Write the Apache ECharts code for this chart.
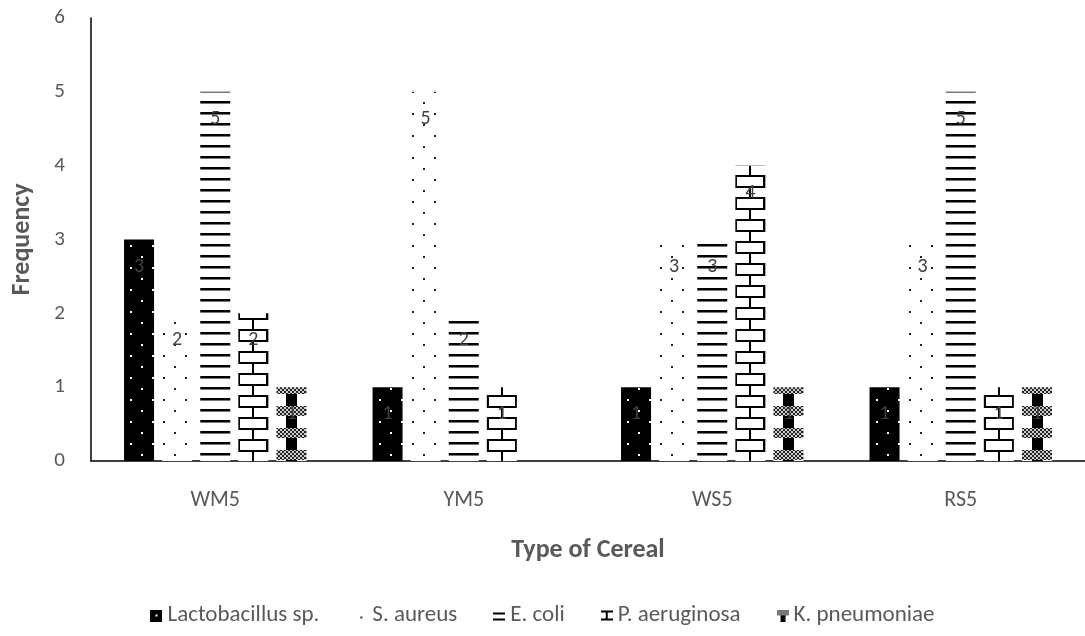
<!DOCTYPE html>
<html><head><meta charset="utf-8">
<script src="https://cdn.jsdelivr.net/npm/echarts@6/dist/echarts.min.js"></script>
<style>html,body{margin:0;padding:0;background:#fff}#c{width:1085px;height:636px}</style>
</head><body><div id="c"></div>
<script>
const categories = ['WM5', 'YM5', 'WS5', 'RS5'];
const seriesNames = ['Lactobacillus sp.', 'S. aureus', 'E. coli', 'P. aeruginosa', 'K. pneumoniae'];
const lactobacillus = [3, 1, 1, 1];
const sAureus = [2, 5, 3, 3];
const eColi = [5, 2, 3, 5];
const pAeruginosa = [2, 1, 4, 1];
const kPneumoniae = [1, 0, 1, 1];
const yTicks = [0, 1, 2, 3, 4, 5, 6];

const FONT = 'Carlito, Calibri, Lato, sans-serif';
const seriesValues = [lactobacillus, sAureus, eColi, pAeruginosa, kPneumoniae];

function mk(w, h, draw) {
  const c = document.createElement('canvas');
  c.width = w; c.height = h;
  const g = c.getContext('2d');
  draw(g, w, h);
  return c;
}
const tiles = [
  () => mk(22, 22, (g) => { g.fillStyle = '#000'; g.fillRect(0, 0, 22, 22); g.fillStyle = '#fff';
      g.fillRect(6, 4, 2, 2); g.fillRect(17, 15, 2, 2); }),
  () => mk(22, 22, (g) => { g.fillStyle = '#fff'; g.fillRect(0, 0, 22, 22); g.fillStyle = '#222';
      g.fillRect(1, 4, 2, 2); g.fillRect(12, 15, 2, 2); }),
  () => mk(30, 11, (g) => { g.fillStyle = '#fff'; g.fillRect(0, 0, 30, 11); g.fillStyle = '#000';
      g.fillRect(0, 3, 30, 2); g.fillStyle = '#777'; g.fillRect(0, 5, 30, 1); }),
  () => mk(30, 22, (g) => { g.fillStyle = '#fff'; g.fillRect(0, 0, 30, 22); g.fillStyle = '#000';
      g.fillRect(0, 0, 30, 2); g.fillRect(0, 11, 30, 2);
      g.fillRect(0, 0, 2, 11); g.fillRect(28, 0, 2, 11);
      g.fillRect(14, 11, 2, 11); }),
  () => mk(30, 22, (g) => { g.fillStyle = '#fff'; g.fillRect(0, 0, 30, 22);
      g.fillStyle = '#000'; g.fillRect(10, 0, 11, 22);
      for (let y = 11; y < 21; y++) for (let x = 0; x < 30; x++) {
        g.fillStyle = ((Math.floor(x / 2) + Math.floor(y / 2)) % 2) ? '#222' : '#cfcfcf';
        g.fillRect(x, y, 1, 1);
      } })
];
const tileCanvases = tiles.map(f => f());

const icons = [
  mk(12, 12, g => { g.fillStyle = '#000'; g.fillRect(0, 0, 12, 12); g.fillStyle = '#fff'; g.fillRect(5, 5, 2, 2); }),
  mk(12, 12, g => { g.fillStyle = '#fff'; g.fillRect(0, 0, 12, 12); g.fillStyle = '#333'; g.fillRect(5, 7, 2, 2); }),
  mk(12, 12, g => { g.fillStyle = '#fff'; g.fillRect(0, 0, 12, 12); g.fillStyle = '#000'; g.fillRect(0, 3, 12, 2); g.fillRect(0, 9, 12, 2); }),
  mk(12, 12, g => { g.fillStyle = '#fff'; g.fillRect(0, 0, 12, 12); g.fillStyle = '#000'; g.fillRect(0, 1, 12, 2); g.fillRect(0, 9, 12, 2); g.fillRect(5, 1, 2, 10); }),
  mk(12, 12, g => { g.fillStyle = '#fff'; g.fillRect(0, 0, 12, 12); g.fillStyle = '#000'; g.fillRect(4, 0, 5, 12);
      for (let y = 0; y < 6; y++) for (let x = 0; x < 12; x++) { g.fillStyle = ((x + y) % 2) ? '#222' : '#ccc'; g.fillRect(x, y, 1, 1); } })
].map(c => 'image://' + c.toDataURL());

const chart = echarts.init(document.getElementById('c'), null, { renderer: 'canvas' });

function buildSeries(offsets) {
  return seriesNames.map((name, s) => ({
    name: name,
    type: 'bar',
    barWidth: 30,
    barGap: '27%',
    itemStyle: { color: { image: tileCanvases[s], repeat: 'repeat' } },
    label: {
      show: true, position: 'insideTop', distance: 17, color: '#404040',
      fontSize: 20, fontFamily: FONT,
      formatter: p => (p.value ? String(p.value) : '')
    },
    data: seriesValues[s].map((v, j) => {
      const item = { value: v };
      if (offsets && offsets[s] && offsets[s][j]) {
        item.itemStyle = { color: { image: tileCanvases[s], repeat: 'repeat', x: offsets[s][j][0], y: offsets[s][j][1] } };
      }
      return item;
    })
  }));
}

const option = {
  animation: false,
  backgroundColor: '#fff',
  textStyle: { fontFamily: FONT },
  grid: { left: 91, right: -6, top: 18, bottom: 175 },
  legend: {
    bottom: 4, left: 'center', itemGap: 36, itemWidth: 12, itemHeight: 12,
    textStyle: { fontSize: 23, color: '#595959', fontFamily: FONT },
    data: seriesNames.map((n, i) => ({ name: n, icon: icons[i] }))
  },
  xAxis: {
    type: 'category', data: categories,
    axisLine: { lineStyle: { color: '#000', width: 1.5 } },
    axisTick: { show: false },
    axisLabel: { fontSize: 22, color: '#595959', margin: 28, fontFamily: FONT },
    name: 'Type of Cereal', nameLocation: 'middle', nameGap: 76,
    nameTextStyle: { fontSize: 26, fontWeight: 'bold', color: '#595959', fontFamily: FONT }
  },
  yAxis: {
    type: 'value', min: yTicks[0], max: yTicks[yTicks.length - 1], interval: 1,
    axisLine: { show: true, lineStyle: { color: '#000', width: 1.5 } },
    axisTick: { show: false },
    splitLine: { show: false },
    axisLabel: { fontSize: 21, color: '#595959', margin: 26, fontFamily: FONT },
    name: 'Frequency', nameLocation: 'middle', nameGap: 56, nameRotate: 90,
    nameTextStyle: { fontSize: 26, fontWeight: 'bold', color: '#595959', fontFamily: FONT }
  },
  series: buildSeries(null)
};
chart.setOption(option);

try {
  const model = chart.getModel();
  const offsets = seriesNames.map((n, s) => {
    const data = model.getSeriesByIndex(s).getData();
    return seriesValues[s].map((v, j) => {
      const l = data.getItemLayout(j);
      if (!l) return null;
      return [Math.round(l.x), Math.round(l.y)];
    });
  });
  chart.setOption({ series: buildSeries(offsets) });
} catch (e) { console.log(e); }
</script>
</body></html>
